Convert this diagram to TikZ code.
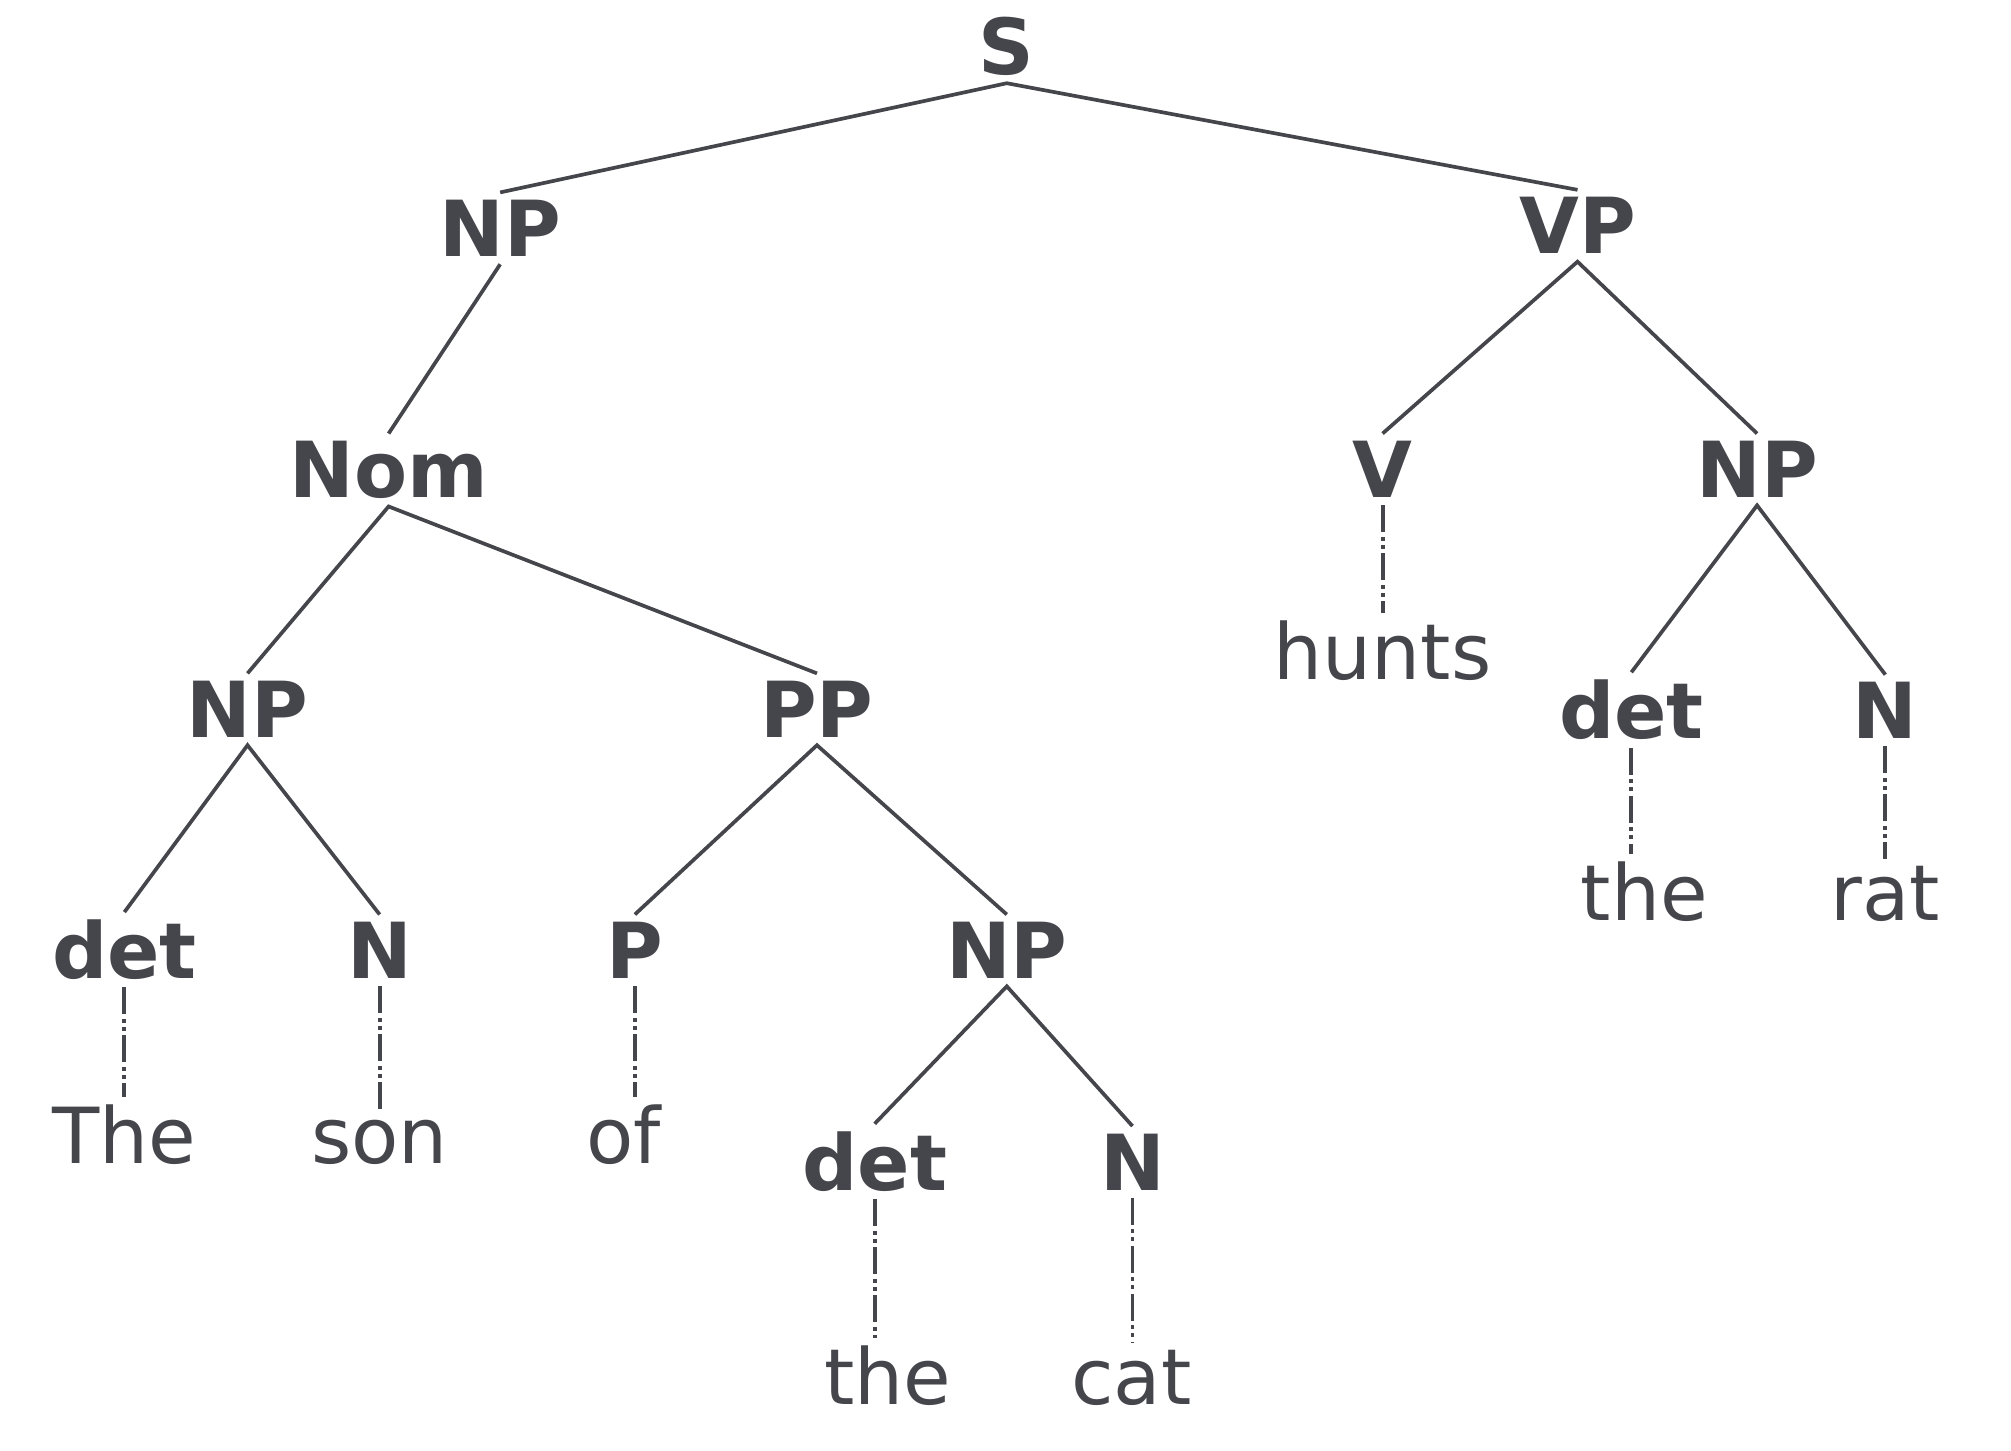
\documentclass[tikz,border=0pt]{standalone}
\usepackage{fontspec}
\setmainfont{DejaVu Sans}
\begin{document}
\begin{tikzpicture}[x=0.12825mm, y=-0.12825mm,
    lab/.style = {anchor=base, inner sep=2pt, text=ink, font=\fontsize{22}{26}\selectfont\bfseries},
    word/.style = {anchor=base, inner sep=2pt, text=ink, font=\fontsize{22}{26}\selectfont},
    branch/.style = {draw=ink, line width=1.05pt},
    lex/.style = {draw=ink, line width=1.1pt, dash pattern=on 2.7mm off 0.45mm on 0.4mm off 0.4mm on 0.4mm off 0.45mm}]

    \definecolor{ink}{rgb}{.27,.27,.30}

    \useasboundingbox (0,0) rectangle (1568,1131);

    % phrase labels
    \node [lab] (s)    at (785,58)   {S};
    \node [lab] (np1)  at (390,200)  {NP};
    \node [lab] (vp)   at (1230,198) {VP};
    \node [lab] (nom)  at (303,388)  {Nom};
    \node [lab] (v)    at (1078,388) {V};
    \node [lab] (np2)  at (1370,388) {NP};
    \node [lab] (np3)  at (193,575)  {NP};
    \node [lab] (pp)   at (637,575)  {PP};
    \node [lab] (det1) at (1272,576) {det};
    \node [lab] (n1)   at (1470,576) {N};
    \node [lab] (det2) at (97,763)   {det};
    \node [lab] (n2)   at (296,763)  {N};
    \node [lab] (p)    at (495,763)  {P};
    \node [lab] (np4)  at (785,763)  {NP};
    \node [lab] (det3) at (682,928)  {det};
    \node [lab] (n3)   at (883,928)  {N};

    % words
    \node [word] (w1) at (1078,530) {hunts};
    \node [word] (w2) at (1282,718) {the};
    \node [word] (w3) at (1470,718) {rat};
    \node [word] (w4) at (97,907)   {The};
    \node [word] (w5) at (296,907)  {son};
    \node [word] (w6) at (486,907)  {of};
    \node [word] (w7) at (692,1095) {the};
    \node [word] (w8) at (882,1095) {cat};

    \draw[branch] (np1.north) -- (s.south) -- (vp.north);
    \draw[branch] (np1.south) -- (nom.north);
    \draw[branch] (np3.north) -- (nom.south) -- (pp.north);
    \draw[branch] (det2.north) -- (np3.south) -- (n2.north);
    \draw[branch] (p.north) -- (pp.south) -- (np4.north);
    \draw[branch] (det3.north) -- (np4.south) -- (n3.north);
    \draw[branch] (v.north) -- (vp.south) -- (np2.north);
    \draw[branch] (det1.north) -- (np2.south) -- (n1.north);

    \draw[lex] (v.south) -- (v.south |- w1.north);
    \draw[lex] (det1.south) -- (det1.south |- w2.north);
    \draw[lex] (n1.south) -- (n1.south |- w3.north);
    \draw[lex] (det2.south) -- (det2.south |- w4.north);
    \draw[lex] (n2.south) -- (n2.south |- w5.north);
    \draw[lex] (p.south) -- (p.south |- w6.north);
    \draw[lex] (det3.south) -- (det3.south |- w7.north);
    \draw[lex] (n3.south) -- (n3.south |- w8.north);

\end{tikzpicture}
\end{document}
